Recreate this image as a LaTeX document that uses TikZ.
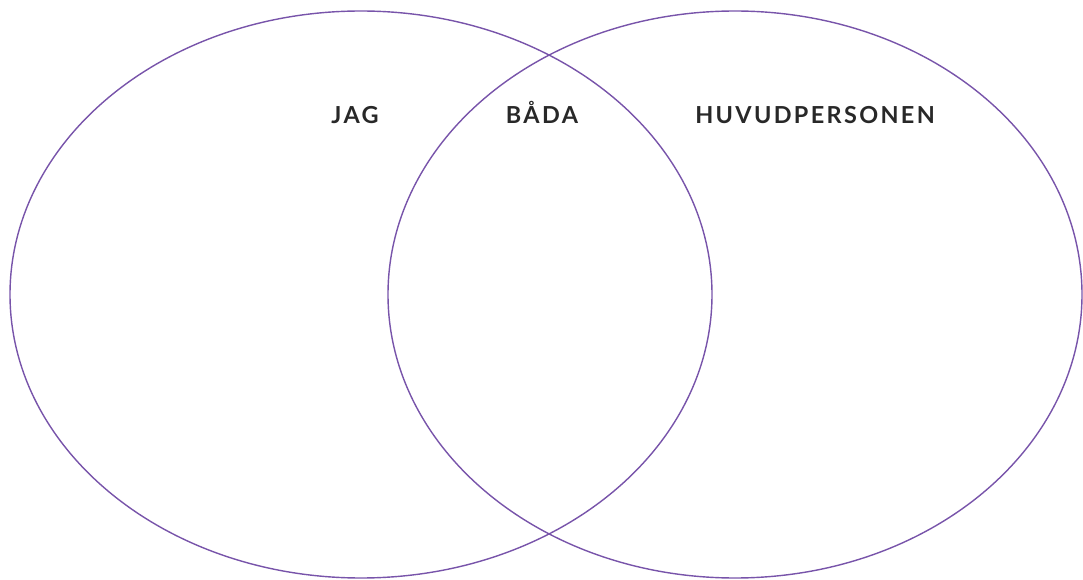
\documentclass[tikz,border=0pt]{standalone}
\usepackage{fontspec}
\setmainfont{Lato}
\newfontfamily\rubrikfont[LetterSpace=10]{Lato}
\usetikzlibrary{positioning,shapes.geometric}
\definecolor{vennlila}{RGB}{120,84,170}
\definecolor{etikett}{RGB}{40,40,40}

\begin{document}
\begin{tikzpicture}[x=0.03cm, y=0.03cm,
  ring/.style={draw=vennlila, ellipse, line width=1.2pt, inner sep=0pt},
  rubrik/.style={text=etikett, font=\rubrikfont\fontsize{20}{22}\selectfont\bfseries, anchor=base, inner sep=0pt}]

  \useasboundingbox (0,0) rectangle (1083,579);

  % de två cirklarna
  \node[ring, minimum width=702*0.03cm, minimum height=567*0.03cm] (jagring) at (361,284.5) {};
  \node[ring, minimum width=694*0.03cm, minimum height=567*0.03cm] (huvudring) at (735,284.5) {};

  % rubriker
  \node[rubrik] (jag) at (355,455) {JAG};
  \node[rubrik] (bada) at (542,455) {BÅDA};
  \node[rubrik] (huvud) at (815,455) {HUVUDPERSONEN};

\end{tikzpicture}
\end{document}
